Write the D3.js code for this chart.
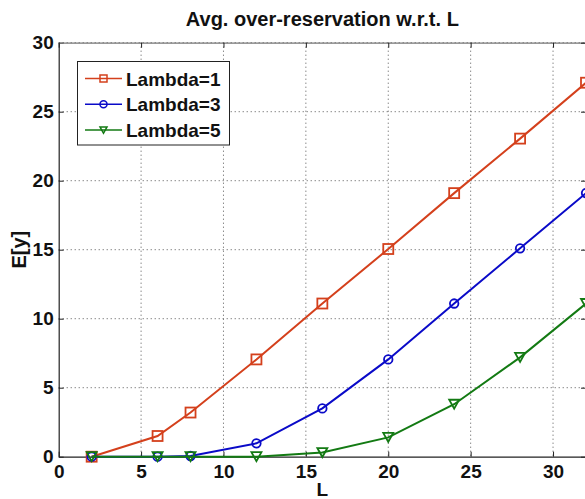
<!DOCTYPE html>
<html><head><meta charset="utf-8">
<script src="https://cdn.jsdelivr.net/npm/d3@7"></script>
<style>
html,body{margin:0;padding:0;background:#fff;overflow:hidden;}
svg{display:block;font-family:"Liberation Sans",Arial,sans-serif;font-weight:bold;}
</style></head>
<body><svg id="c" width="585" height="499"></svg>
<script>
const Ls = [2, 6, 8, 12, 16, 20, 24, 28, 32];
const lambda1 = [0, 1.5, 3.2, 7.05, 11.1, 15.05, 19.1, 23.05, 27.1];
const lambda3 = [0, 0, 0.05, 0.97, 3.5, 7.05, 11.1, 15.1, 19.1];
const lambda5 = [0, 0, 0, 0, 0.3, 1.4, 3.8, 7.2, 11.1];
const seriesNames = ["Lambda=1", "Lambda=3", "Lambda=5"];
const xTicks = [0, 5, 10, 15, 20, 25, 30];
const yTicks = [0, 5, 10, 15, 20, 25, 30];
const colors = ["#d4401c", "#0a0ac8", "#137a13"];
const symbols = ["square", "circle", "triangle"];

const svg = d3.select("#c");
const L = 58.7, R = 586, T = 42.7, B = 456.7;
const x = d3.scaleLinear().domain([0, 32]).range([L, R]);
const y = d3.scaleLinear().domain([0, 30]).range([B, T]);

// grid
const g = svg.append("g");
g.selectAll(".gx").data(xTicks.filter(t => t > 0)).join("line")
  .attr("x1", d => x(d)).attr("x2", d => x(d)).attr("y1", T).attr("y2", B)
  .attr("stroke", "#555").attr("stroke-width", 1).attr("stroke-dasharray", "1,3");
g.selectAll(".gy").data(yTicks.filter(t => t > 0)).join("line")
  .attr("x1", L).attr("x2", R).attr("y1", d => y(d)).attr("y2", d => y(d))
  .attr("stroke", "#555").attr("stroke-width", 1).attr("stroke-dasharray", "1,3");

// axes with inward ticks
const ax = svg.append("g").attr("transform", `translate(0,${B})`)
  .call(d3.axisBottom(x).tickValues(xTicks).tickSizeInner(-5).tickSizeOuter(0).tickPadding(8));
const ay = svg.append("g").attr("transform", `translate(${L},0)`)
  .call(d3.axisLeft(y).tickValues(yTicks).tickSizeInner(-5).tickSizeOuter(0).tickPadding(5));
const axTop = svg.append("g").attr("transform", `translate(0,${T})`)
  .call(d3.axisTop(x).tickValues(xTicks).tickSizeInner(-5).tickSizeOuter(0).tickFormat(""));
const ayR = svg.append("g").attr("transform", `translate(${R},0)`)
  .call(d3.axisRight(y).tickValues(yTicks).tickSizeInner(-5).tickSizeOuter(0).tickFormat(""));
[ax, ay, axTop, ayR].forEach(a => {
  a.selectAll("path").attr("stroke", "#222").attr("stroke-width", 1.2);
  a.selectAll("line").attr("stroke", "#222");
  a.selectAll("text").attr("font-size", 19).attr("font-weight", "bold").attr("fill", "#111")
    .attr("font-family", '"Liberation Sans",Arial,sans-serif');
});
axTop.select("path").attr("stroke", "#777");
ax.selectAll("text").attr("dy", "0.71em");

// series
const data = [lambda1, lambda3, lambda5];
const line = d3.line().x((d, i) => x(Ls[i])).y(d => y(d));
function marker(sel, sym, size) {
  if (sym === "square") {
    sel.append("rect").attr("x", -size / 2).attr("y", -size / 2).attr("width", size).attr("height", size);
  } else if (sym === "circle") {
    sel.append("circle").attr("r", size / 2);
  } else {
    const h = size * 0.9, w = size / 2;
    sel.append("path").attr("d", `M${-w},${-h / 2}L${w},${-h / 2}L0,${h / 2}Z`);
  }
}
data.forEach((vals, k) => {
  svg.append("path").datum(vals).attr("d", line).attr("fill", "none")
    .attr("stroke", colors[k]).attr("stroke-width", 2);
  vals.forEach((v, i) => {
    const m = svg.append("g").attr("transform", `translate(${x(Ls[i])},${y(v)})`)
      .attr("fill", "none").attr("stroke", colors[k]).attr("stroke-width", 1.8);
    marker(m, symbols[k], k === 1 ? 8.5 : 10);
  });
});

// title and labels
svg.append("text").attr("x", (L + R) / 2).attr("y", 26).attr("text-anchor", "middle")
  .attr("font-size", 20).attr("fill", "#111").text("Avg. over-reservation w.r.t. L");
svg.append("text").attr("x", x(16)).attr("y", 496).attr("text-anchor", "middle")
  .attr("font-size", 19).attr("fill", "#111").text("L");
svg.append("text").attr("transform", `translate(26,${(T + B) / 2}) rotate(-90)`)
  .attr("text-anchor", "middle").attr("font-size", 20).attr("fill", "#111").text("E[y]");

// legend
const lg = svg.append("g");
lg.append("rect").attr("x", 77.5).attr("y", 61.5).attr("width", 152).attr("height", 83.5)
  .attr("fill", "#fff").attr("stroke", "#222").attr("stroke-width", 1);
seriesNames.forEach((n, k) => {
  const yy = 78.5 + k * 25.8;
  lg.append("line").attr("x1", 85).attr("x2", 122).attr("y1", yy).attr("y2", yy)
    .attr("stroke", colors[k]).attr("stroke-width", 1.5);
  const m = lg.append("g").attr("transform", `translate(103.5,${yy})`)
    .attr("fill", "none").attr("stroke", colors[k]).attr("stroke-width", 1.5);
  marker(m, symbols[k], 7);
  lg.append("text").attr("x", 126).attr("y", yy + 7).attr("font-size", 19)
    .attr("fill", "#111").text(n);
});
</script></body></html>
